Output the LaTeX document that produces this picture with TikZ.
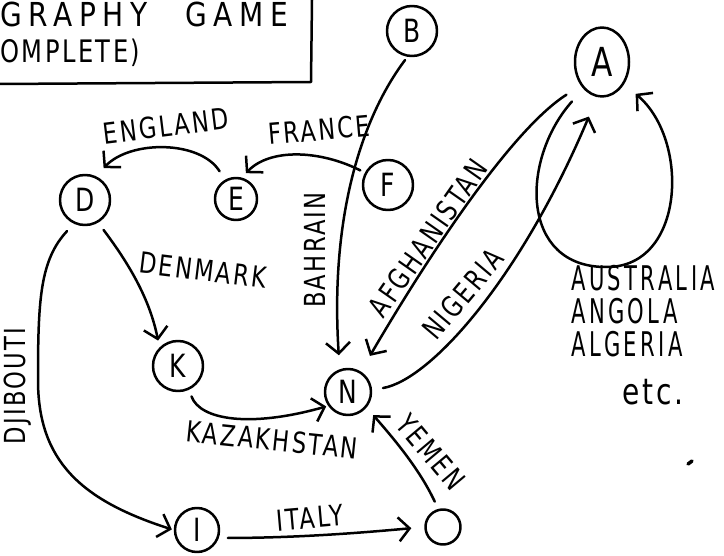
\documentclass[tikz,border=0pt]{standalone}
\usepackage{fontspec}
\setmainfont{DejaVu Sans}
\newfontfamily\hand[LetterSpace=8,FakeStretch=0.78]{DejaVu Sans}
\newfontfamily\handn[LetterSpace=10,FakeStretch=0.62]{DejaVu Sans}
\newfontfamily\handw[LetterSpace=20,FakeStretch=0.85]{DejaVu Sans}
\usetikzlibrary{arrows.meta,shapes.geometric}
\begin{document}
\begin{tikzpicture}[x=1pt,y=-1pt,
  ink/.style={line width=2.5pt, line cap=round, line join=round},
  st/.style={ink, draw, circle, inner sep=0pt, font=\hand\fontsize{32}{32}\selectfont},
  arr/.style={ink, -{Straight Barb[length=11pt,width=24pt,line width=2.5pt]}},
  lab/.style={font=\hand\fontsize{29}{29}\selectfont, inner sep=0pt},
  ttl/.style={inner sep=0pt, anchor=base west},
]
\useasboundingbox (0,0) rectangle (724,556);

% title box
\draw[ink] (312,0) -- (311,82) -- (0,84);
\node[ttl, font=\handw\fontsize{33}{33}\selectfont] (t1) at (0,27) {GRAPHY\hspace{38pt}GAME};
\node[ttl, font=\hand\fontsize{31}{31}\selectfont] (t2) at (0,63) {OMPLETE)};

% nodes
\node[st, minimum size=50pt] (B) at (412,31) {B};
\node[st, ellipse, minimum width=54pt, minimum height=69pt, font=\hand\fontsize{40}{40}\selectfont] (A) at (602,62) {A};
\node[st, minimum size=50pt] (D) at (85,200) {D};
\node[st, minimum size=42pt] (E) at (236,199) {E};
\node[st, minimum size=50pt] (F) at (388,185) {F};
\node[st, minimum size=50pt] (K) at (178,366) {K};
\node[st, minimum size=46pt] (N) at (348,392) {N};
\node[st, minimum size=44pt] (I) at (197,530) {I};
\node[st, minimum size=35pt] (O) at (443,527) {};

% connectors
\draw[arr, shorten <=10pt, shorten >=11pt] (E.120) .. controls (200,140) and (130,140) .. (D.65);
\draw[arr, shorten <=5pt, shorten >=6pt] (F.152) .. controls (320,150) and (270,148) .. (E.75);
\draw[arr, shorten <=4pt, shorten >=14pt] (B.260) .. controls (360,120) and (330,220) .. (N.110);
\draw[arr, shorten <=17pt, shorten >=18pt] (A.228) .. controls (508,132) and (420,270) .. (N.58);
\draw[arr, shorten <=11pt, shorten >=21pt] (N.5) .. controls (430,380) and (520,280) .. (A.262);
\draw[arr, shorten <=17pt, shorten >=15pt] (A.235) .. controls (520,160) and (520,268) .. (607,267)
   .. controls (685,267) and (690,140) .. (A.315);
\draw[arr, shorten <=9pt, shorten >=7pt] (D.300) .. controls (130,265) and (150,300) .. (K.135);
\draw[arr, shorten <=7pt, shorten >=2pt] (K.295) .. controls (200,420) and (250,428) .. (N.215);
\draw[arr, shorten <=10pt, shorten >=2pt] (D.245) .. controls (40,260) and (38,300) .. (38,380)
   .. controls (38,460) and (80,500) .. (I.180);
\draw[arr, shorten <=9pt, shorten >=13pt] (I.340) .. controls (300,538) and (370,532) .. (O.180);
\draw[arr, shorten <=8pt, shorten >=10pt] (O.105) .. controls (420,470) and (395,440) .. (N.320);

% labels
\node[lab, rotate=7] (lEng) at (166,126) {ENGLAND};
\node[lab, rotate=5] (lFra) at (319,130) {FRANCE};
\node[lab, rotate=-7] (lDen) at (203,270) {DENMARK};
\node[lab, rotate=90] (lBah) at (315,250) {BAHRAIN};
\node[lab, rotate=55] (lAfg) at (428,238) {AFGHANISTAN};
\node[lab, rotate=50] (lNig) at (463,294) {NIGERIA};
\node[lab, rotate=-6] (lKaz) at (272,440) {KAZAKHSTAN};
\node[lab, rotate=90] (lDji) at (18,386) {DJIBOUTI};
\node[lab, rotate=5] (lIta) at (310,518) {ITALY};
\node[lab, rotate=-50] (lYem) at (431,452) {YEMEN};
\node[lab, align=left, anchor=north west, font=\handn\fontsize{34}{33}\selectfont] (lAus) at (571,265) {AUSTRALIA\\ANGOLA\\ALGERIA};
\node[lab, font=\hand\fontsize{36}{36}\selectfont] (letc) at (653,392) {etc.};

% stray mark
\draw[line width=3.5pt, line cap=round] (688,464) -- (692,461);
\end{tikzpicture}
\end{document}
